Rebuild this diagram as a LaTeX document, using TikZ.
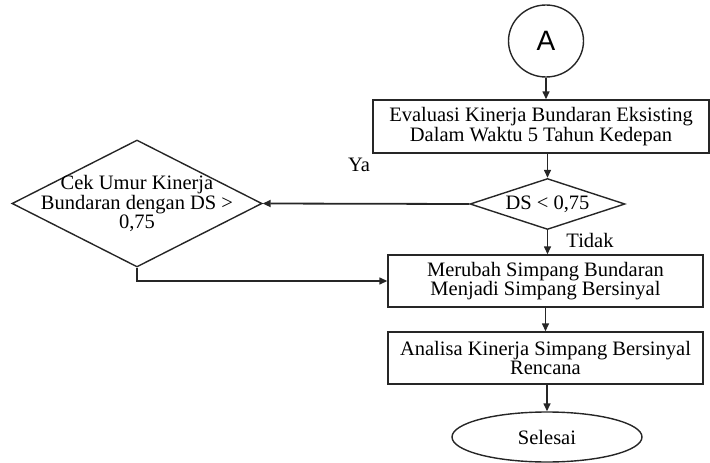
\documentclass[tikz,border=0pt]{standalone}
\usepackage{fontspec}
\setmainfont{Liberation Serif}
\newfontfamily\arialfont{Liberation Sans}
\usetikzlibrary{arrows.meta,positioning,shapes.geometric}

\begin{document}
\begin{tikzpicture}[x=1pt,y=-1pt,line width=1.4pt,
  every node/.style={font=\fontsize{20.5}{18.5}\selectfont,text=black},
  proc/.style={draw=black!85,rectangle,minimum height=52pt,inner sep=0pt,align=center},
  cond/.style={draw=black!85,diamond,inner sep=0pt},
  term/.style={draw=black!85,ellipse,inner sep=0pt},
  arr/.style={draw=black!85,-{Triangle[length=8pt,width=7pt]}}]
\useasboundingbox (0,0) rectangle (710,463);
\node[term,minimum width=75pt,minimum height=72pt,font=\arialfont\fontsize{28}{28}\selectfont] (a) at (546,41) {A};
\node[proc,minimum width=336pt,minimum height=53pt] (eval) at (541,126.5) {Evaluasi Kinerja Bundaran Eksisting\\Dalam Waktu 5 Tahun Kedepan};
\node[cond,minimum width=155pt,minimum height=51pt] (ds) at (547.5,204) {};
\node (dstext) at (ds) {DS < 0,75};
\node[cond,minimum width=250pt,minimum height=127pt] (cek) at (137,203.5) {};
\node[align=center] (cektext) at (cek) {Cek Umur Kinerja\\Bundaran dengan DS >\\0,75};
\node[proc,minimum width=315pt] (ubah) at (545.5,281) {Merubah Simpang Bundaran\\Menjadi Simpang Bersinyal};
\node[proc,minimum width=315pt] (analisa) at (545.5,358) {Analisa Kinerja Simpang Bersinyal\\Rencana};
\node[term,minimum width=190pt,minimum height=50pt] (selesai) at (547,437) {Selesai};
\node (ya) at (359,165) {Ya};
\node (tidak) at (590,240) {Tidak};
\draw[arr] (a.south) -- (a.south |- eval.north);
\draw[arr] (ds |- eval.south) -- (ds.north);
\draw[arr,line width=1.8pt] (ds.west) -- (cek.east);
\draw[arr] (ds.south) -- (ds.south |- ubah.north);
\draw[arr] (cek.south) |- (ubah.west);
\draw[arr] (analisa |- ubah.south) -- (analisa.north);
\draw[arr] (selesai |- analisa.south) -- (selesai.north);
\end{tikzpicture}
\end{document}
